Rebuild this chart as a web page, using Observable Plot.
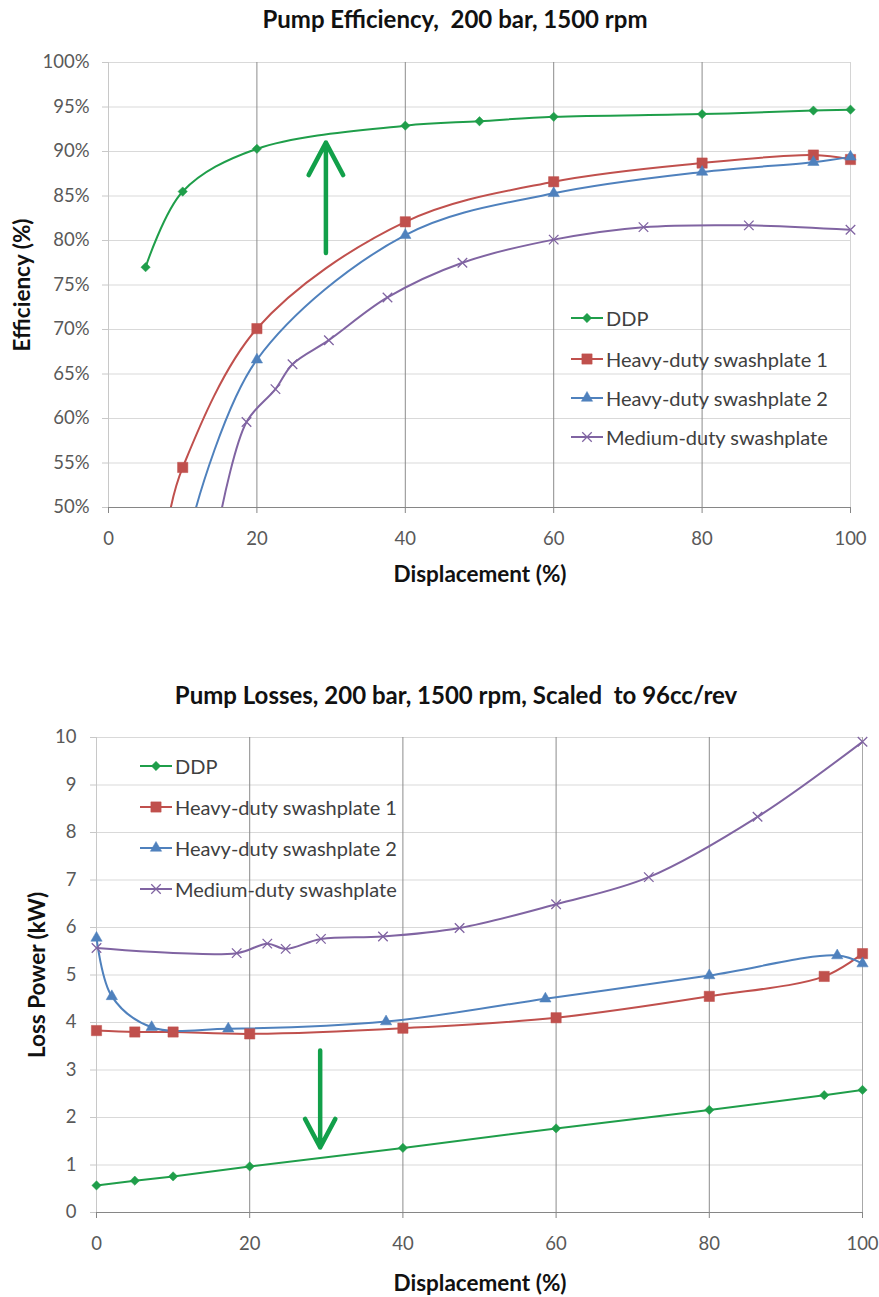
<!DOCTYPE html>
<html><head><meta charset="utf-8">
<script src="https://cdn.jsdelivr.net/npm/d3@7"></script>
<script src="https://cdn.jsdelivr.net/npm/@observablehq/plot@0.6"></script>
<style>
body{margin:0;background:#fff;font-family:Lato,"Open Sans",sans-serif;}
#wrap{position:relative;width:879px;height:1297px;overflow:hidden;background:#fff;}
#wrap svg{position:absolute;left:0;}
.abs{position:absolute;white-space:pre;line-height:1;}
.title{font-weight:bold;font-size:24px;color:#111;transform:translate(-50%,-50%);}
.axt{font-weight:bold;font-size:22.5px;color:#111;transform:translate(-50%,-50%);}
.rot{transform:translate(-50%,-50%) rotate(-90deg);}
.leg{display:flex;align-items:center;font-size:20px;color:#404040;transform:translateY(-50%);}
.leg svg{position:static !important;margin-right:3px;}
</style></head>
<body><div id="wrap"></div>
<script>
// ---------- shared ----------
const seriesNames = ["DDP", "Heavy-duty swashplate 1", "Heavy-duty swashplate 2", "Medium-duty swashplate"];
const seriesColors = ["#1f9e4a", "#c0504d", "#4f81bd", "#8064a2"];
const seriesSymbols = ["diamond2", "square", "triangle", "times"];
const seriesR = [4.2, 5.8, 4.2, 4.4];
const dispTicks = [0, 20, 40, 60, 80, 100];

// ---------- chart 1: efficiency (%) vs displacement (%) ----------
const effTitle = "Pump Efficiency,  200 bar, 1500 rpm";
const effYLabel = "Efficiency (%)";
const effTicks = [50, 55, 60, 65, 70, 75, 80, 85, 90, 95, 100];
const effDispDDP = [5, 10, 20, 40, 50, 60, 80, 95, 100];
const effDDP = [77.0, 85.5, 90.3, 92.9, 93.4, 93.9, 94.2, 94.6, 94.7];
const effDispHD1 = [10, 20, 40, 60, 80, 95, 100];
const effHD1 = [54.5, 70.1, 82.1, 86.6, 88.7, 89.6, 89.1];
const effDispHD2 = [20, 40, 60, 80, 95, 100];
const effHD2 = [66.6, 80.6, 85.3, 87.7, 88.8, 89.4];
const effDispMD = [18.6, 22.5, 24.8, 29.7, 37.6, 47.7, 60, 72.1, 86.3, 100];
const effMD = [59.6, 63.3, 66.1, 68.8, 73.6, 77.5, 80.1, 81.5, 81.7, 81.2];
// displacement at which each curve leaves the chart through its 50% floor (line only)
const effFloorDisp = [null, 8.4, 11.8, 15.3];
const effArrowDisp = [29.3], effArrowFrom = [78.6], effArrowTo = [91.0];

// ---------- chart 2: loss power (kW) vs displacement (%) ----------
const lossTitle = "Pump Losses, 200 bar, 1500 rpm, Scaled  to 96cc/rev";
const lossYLabel = "Loss Power (kW)";
const lossTicks = [0, 1, 2, 3, 4, 5, 6, 7, 8, 9, 10];
const lossDispDDP = [0, 5, 10, 20, 40, 60, 80, 95, 100];
const lossDDP = [0.57, 0.67, 0.76, 0.97, 1.36, 1.77, 2.16, 2.47, 2.58];
const lossDispHD1 = [0, 5, 10, 20, 40, 60, 80, 95, 100];
const lossHD1 = [3.83, 3.80, 3.80, 3.76, 3.88, 4.10, 4.55, 4.97, 5.45];
const lossDispHD2 = [0, 2, 7.2, 17.2, 37.8, 58.6, 80, 96.7, 100];
const lossHD2 = [5.78, 4.55, 3.90, 3.87, 4.02, 4.50, 4.99, 5.41, 5.24];
const lossDispMD = [0, 18.3, 22.3, 24.7, 29.3, 37.4, 47.4, 60, 72.1, 86.3, 100];
const lossMD = [5.57, 5.46, 5.66, 5.55, 5.76, 5.81, 5.99, 6.49, 7.06, 8.33, 9.91];
const lossArrowDisp = [29.2], lossArrowFrom = [3.41], lossArrowTo = [1.37];

const xLabel = "Displacement (%)";

// ---------- helpers ----------
const rows = (xs, ys) => xs.map((x, i) => ({x, y: ys[i]}));
const wrap = document.getElementById("wrap");

function addDiv(cls, text, left, top) {
  const d = document.createElement("div");
  d.className = "abs " + cls;
  d.textContent = text;
  d.style.left = left + "px";
  d.style.top = top + "px";
  wrap.appendChild(d);
  return d;
}

function legendSample(i) {
  const w = 32, h = 16;
  const svg = d3.create("svg").attr("width", w).attr("height", h);
  svg.append("line").attr("x1", 0).attr("x2", w).attr("y1", h / 2).attr("y2", h / 2)
    .attr("stroke", seriesColors[i]).attr("stroke-width", 2);
  const symMap = {diamond2: d3.symbolDiamond2, square: d3.symbolSquare, triangle: d3.symbolTriangle, times: d3.symbolTimes};
  const p = d3.symbol(symMap[seriesSymbols[i]], Math.PI * seriesR[i] * seriesR[i])();
  const isStroke = seriesSymbols[i] === "times";
  svg.append("path").attr("d", p).attr("transform", `translate(${w / 2},${h / 2})`)
    .attr("fill", isStroke ? "none" : seriesColors[i])
    .attr("stroke", seriesColors[i]).attr("stroke-width", isStroke ? 1.3 : 0.5);
  return svg.node();
}

function addLegend(left, tops) {
  seriesNames.forEach((name, i) => {
    const d = document.createElement("div");
    d.className = "abs leg";
    d.style.left = left + "px";
    d.style.top = tops[i] + "px";
    d.appendChild(legendSample(i));
    const s = document.createElement("span");
    s.textContent = name;
    d.appendChild(s);
    wrap.appendChild(d);
  });
}

function seriesMarks(lineData, dotData, straightFirst) {
  const marks = [];
  lineData.forEach((data, i) => {
    marks.push(Plot.line(data, {x: "x", y: "y", stroke: seriesColors[i], strokeWidth: 2,
      curve: i === 0 && straightFirst ? "linear" : "catmull-rom", clip: true}));
  });
  dotData.forEach((data, i) => {
    const isStroke = seriesSymbols[i] === "times";
    marks.push(Plot.dot(data, {x: "x", y: "y", symbol: () => seriesSymbols[i], r: seriesR[i],
      fill: isStroke ? "none" : seriesColors[i], stroke: seriesColors[i], strokeWidth: isStroke ? 1.3 : 0.5}));
  });
  return marks;
}

const arrowStyle = {x1: "x", x2: "x", y1: "y1", y2: "y2", stroke: "#12a04a", strokeWidth: 4.5, headLength: 20, headAngle: 56};

// ---------- chart 1 ----------
const effFloor = effTicks[0];
const effDots = [rows(effDispDDP, effDDP), rows(effDispHD1, effHD1), rows(effDispHD2, effHD2), rows(effDispMD, effMD)];
const effLines = effDots.map((d, i) => effFloorDisp[i] == null ? d : [{x: effFloorDisp[i], y: effFloor}, ...d]);

const effPlot = Plot.plot({
  width: 879, height: 600,
  marginLeft: 108, marginRight: 29, marginTop: 62, marginBottom: 93,
  x: {domain: [0, 100]},
  y: {domain: [50, 100]},
  style: {fontFamily: "Lato, sans-serif", fontSize: "18.5px", background: "transparent", overflow: "visible"},
  marks: [
    Plot.gridY(effTicks, {stroke: "#d9d9d9", strokeOpacity: 1}),
    Plot.gridX(dispTicks.slice(1, -1), {stroke: "#8c8c8c", strokeOpacity: 1}),
    Plot.gridX(dispTicks.slice(-1), {stroke: "#d4d4d4", strokeOpacity: 1}),
    Plot.ruleX(dispTicks.slice(0, 1), {stroke: "#c8c8c8"}),
    Plot.ruleY(effTicks.slice(0, 1), {stroke: "#868686"}),
    Plot.axisY(effTicks, {tickFormat: d => d + "%", tickSize: 6, tickPadding: 13, stroke: "#c8c8c8", fill: "#595959", label: null}),
    Plot.axisX(dispTicks, {tickSize: 6, tickPadding: 18, stroke: "#868686", fill: "#595959", label: null}),
    ...seriesMarks(effLines, effDots, false),
    Plot.arrow(effArrowDisp.map((x, i) => ({x, y1: effArrowFrom[i], y2: effArrowTo[i]})), arrowStyle)
  ]
});
effPlot.style.top = "0px";
wrap.appendChild(effPlot);

// ---------- chart 2 ----------
const lossDots = [rows(lossDispDDP, lossDDP), rows(lossDispHD1, lossHD1), rows(lossDispHD2, lossHD2), rows(lossDispMD, lossMD)];

const lossPlot = Plot.plot({
  width: 879, height: 637,
  marginLeft: 96, marginRight: 17, marginTop: 77, marginBottom: 85,
  x: {domain: [0, 100]},
  y: {domain: [0, 10]},
  style: {fontFamily: "Lato, sans-serif", fontSize: "18.5px", background: "transparent", overflow: "visible"},
  marks: [
    Plot.gridY(lossTicks, {stroke: "#d9d9d9", strokeOpacity: 1}),
    Plot.gridX(dispTicks.slice(1, -1), {stroke: "#8c8c8c", strokeOpacity: 1}),
    Plot.gridX(dispTicks.slice(-1), {stroke: "#a8a8a8", strokeOpacity: 1}),
    Plot.ruleX(dispTicks.slice(0, 1), {stroke: "#c8c8c8"}),
    Plot.ruleY(lossTicks.slice(0, 1), {stroke: "#868686"}),
    Plot.axisY(lossTicks, {tickSize: 6, tickPadding: 14, stroke: "#c8c8c8", fill: "#595959", label: null}),
    Plot.axisX(dispTicks, {tickSize: 6, tickPadding: 18, stroke: "#868686", fill: "#595959", label: null}),
    ...seriesMarks(lossDots, lossDots, true),
    Plot.arrow(lossArrowDisp.map((x, i) => ({x, y1: lossArrowFrom[i], y2: lossArrowTo[i]})), arrowStyle)
  ]
});
lossPlot.style.top = "660px";
wrap.appendChild(lossPlot);

// ---------- text ----------
addDiv("title", effTitle, 455, 19);
addDiv("axt", xLabel, 480, 574);
addDiv("axt rot", effYLabel, 22, 285);
addLegend(571, [318, 359, 398, 437]);

addDiv("title", lossTitle, 456, 695);
addDiv("axt", xLabel, 480, 1283);
addDiv("axt rot", lossYLabel, 37, 975);
addLegend(140, [766, 807, 848, 889]);
</script></body></html>
